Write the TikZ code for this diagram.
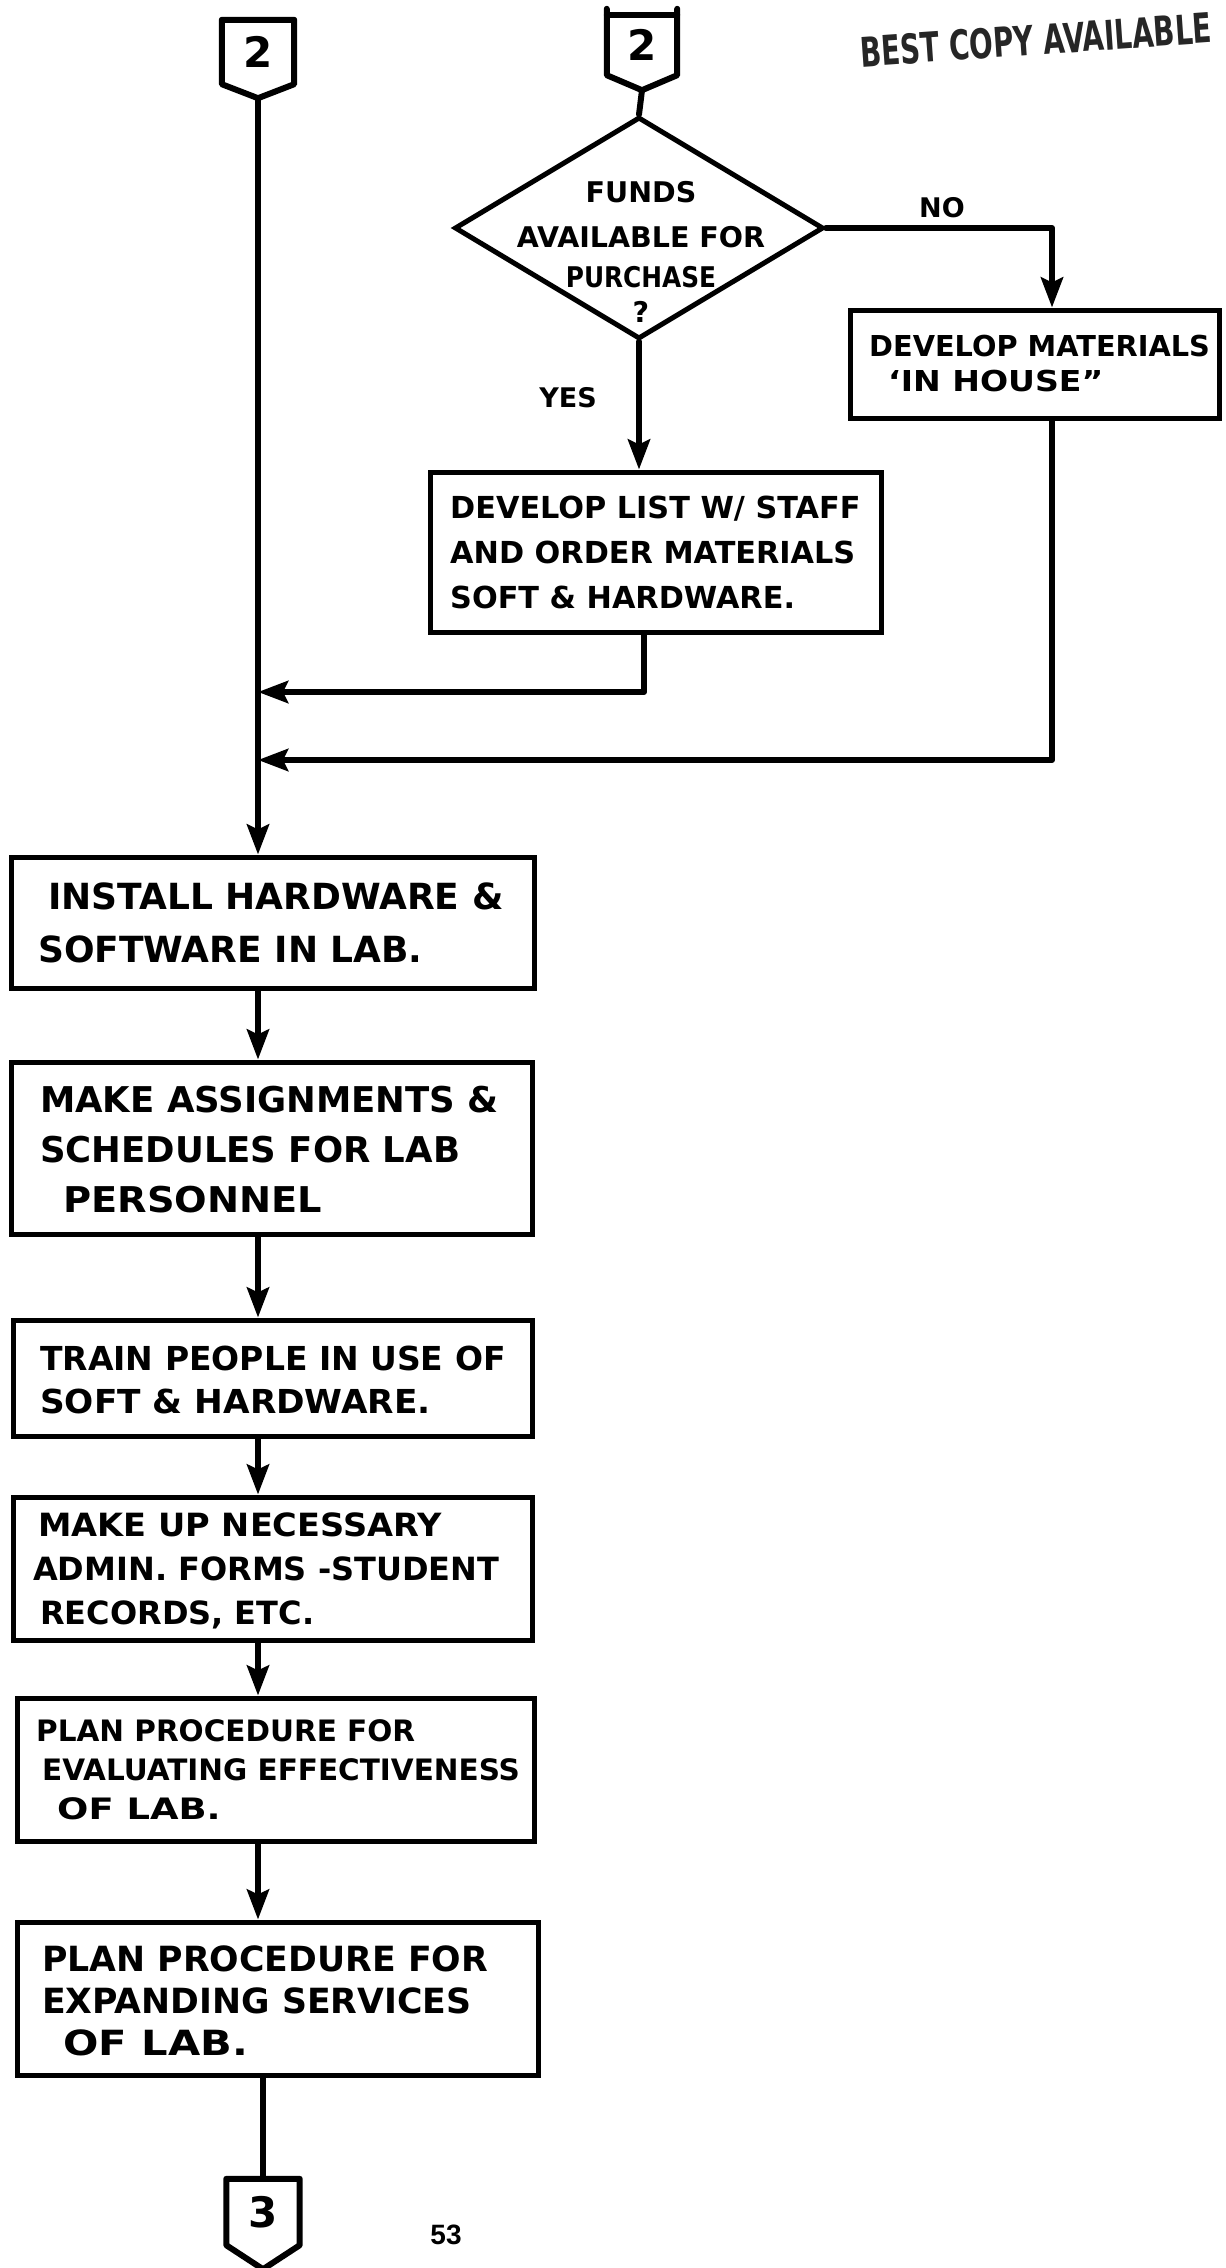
\documentclass[tikz,border=0pt]{standalone}
\usepackage{fontspec}
\setmainfont{DejaVu Sans}
\newfontfamily\numfont{Liberation Sans}
\usetikzlibrary{arrows.meta,shapes.geometric}

\tikzset{
  ln/.style={line width=6pt, line cap=round, line join=round},
  arr/.style={-{Stealth[length=30pt,width=22pt,inset=5pt]}},
  procbox/.style 2 args={draw, line width=5pt, inner sep=0pt,
    minimum width=#1pt, minimum height=#2pt},
  boxtext/.style={anchor=west, align=left, inner sep=0pt},
  offpage/.style={inner sep=0pt, font=\bfseries\fontsize{42pt}{42pt}\selectfont},
  decision/.style={diamond, draw, line width=5pt, inner sep=0pt,
    minimum width=369pt, minimum height=222pt},
  lbl/.style={inner sep=0pt, font=\bfseries\fontsize{27pt}{27pt}\selectfont},
}
\newcommand\hw[2]{\bfseries\fontsize{#1pt}{#2pt}\selectfont}
% widen or narrow one lettered line
\newcommand\wide[2]{\scalebox{#1}[1]{#2}}

\begin{document}
\begin{tikzpicture}[x=1pt,y=-1pt]
\useasboundingbox (0,0) rectangle (1226,2268);
\fill[white] (0,0) rectangle (1226,2268);

% guide columns for the connectors
\coordinate (spine) at (258,0);
\coordinate (rcol) at (1052,0);
\coordinate (dcol) at (644,0);
\coordinate (join1) at (258,692);
\coordinate (join2) at (258,760);

% off-page connectors
\node[offpage, minimum width=72pt, minimum height=64pt] (c2a) at (258,52) {2};
\coordinate (c2a tip) at ([yshift=-14pt]c2a.south);
\draw[ln] (c2a.north west) -- (c2a.north east) -- (c2a.south east)
  -- (c2a tip) -- (c2a.south west) -- cycle;

\node[offpage, minimum width=70pt, minimum height=60pt] (c2b) at (642,45) {2};
\coordinate (c2b tip) at ([yshift=-15pt]c2b.south);
\draw[ln] ([yshift=6pt]c2b.north west) -- (c2b.south west) -- (c2b tip)
  -- (c2b.south east) -- ([yshift=6pt]c2b.north east);
\draw[ln] (c2b.north west) -- (c2b.north east);

\node[offpage, minimum width=73pt, minimum height=66pt] (c3) at (263,2212) {3};
\coordinate (c3 tip) at ([yshift=-24pt]c3.south);
\draw[ln] (c3.north west) -- (c3.north east) -- (c3.south east)
  -- (c3 tip) -- (c3.south west) -- cycle;

% decision
\node[decision] (fund) at (639,228) {};
\node[align=center, inner sep=0pt, font=\hw{28.5}{40}]
  (fundtxt) at (641,252) {FUNDS\\[5pt]AVAILABLE FOR\\\wide{0.87}{PURCHASE}\\[-5pt]?};
\node[lbl] (yes) at (568,398) {YES};
\node[lbl] (no) at (942,208) {NO};

% process boxes
\node[procbox={369}{108}] (inh) at (1034.5,364) {};
\node[boxtext, font=\hw{28.8}{35}] (inh text) at (869,364)
  {DEVELOP MATERIALS\\\hspace*{19pt}\wide{1.15}{‘IN HOUSE”}};

\node[procbox={451}{160}] (dlist) at (655.5,552) {};
\node[boxtext, font=\hw{30.3}{45}] (dlist text) at (450,552)
  {DEVELOP LIST W/ STAFF\\AND ORDER MATERIALS\\SOFT \& HARDWARE.};

\node[procbox={523}{131}] (install) at (272.5,922.5) {};
\node[boxtext, font=\hw{36}{53}] (install text) at (38,922.5)
  {\hspace*{10pt}INSTALL HARDWARE \&\\SOFTWARE IN LAB.};

\node[procbox={521}{172}] (assign) at (271.5,1148) {};
\node[boxtext, font=\hw{35.5}{50}] (assign text) at (40,1150)
  {MAKE ASSIGNMENTS \&\\SCHEDULES FOR LAB\\\hspace*{23pt}\wide{1.08}{PERSONNEL}};

\node[procbox={519}{116}] (train) at (272.5,1378) {};
\node[boxtext, font=\hw{33}{43}] (train text) at (40,1380)
  {TRAIN PEOPLE IN USE OF\\\wide{1.04}{SOFT \& HARDWARE.}};

\node[procbox={519}{143}] (makeup) at (272.5,1568.5) {};
\node[boxtext, font=\hw{32}{44}] (makeup text) at (33,1571)
  {\hspace*{5pt}\wide{1.05}{MAKE UP NECESSARY}\\ADMIN. FORMS -STUDENT\\\hspace*{7pt}RECORDS, ETC.};

\node[procbox={517}{143}] (eval) at (275.5,1769.5) {};
\node[boxtext, font=\hw{29.5}{39}] (eval text) at (36,1769.5)
  {PLAN PROCEDURE FOR\\\hspace*{6pt}EVALUATING EFFECTIVENESS\\\hspace*{21pt}\wide{1.25}{OF LAB.}};

\node[procbox={521}{153}] (expand) at (277.5,1998.5) {};
\node[boxtext, font=\hw{34.7}{42}] (expand text) at (42,2001)
  {PLAN PROCEDURE FOR\\EXPANDING SERVICES\\\hspace*{21pt}\wide{1.2}{OF LAB.}};

% connectors
\draw[ln] (c2b tip) -- (fund.north);
\draw[ln,arr] (fund.east) -| (rcol |- inh.north);
\draw[ln,arr] (fund.south) -- (fund.south |- dlist.north);
\draw[ln,arr] (dcol |- dlist.south) |- (join1);
\draw[ln,arr] (rcol |- inh.south) |- (join2);
\draw[ln,arr] (c2a tip) -- (spine |- install.north);
\draw[ln,arr] (spine |- install.south) -- (spine |- assign.north);
\draw[ln,arr] (spine |- assign.south) -- (spine |- train.north);
\draw[ln,arr] (spine |- train.south) -- (spine |- makeup.north);
\draw[ln,arr] (spine |- makeup.south) -- (spine |- eval.north);
\draw[ln,arr] (spine |- eval.south) -- (spine |- expand.north);
\draw[ln] (c3 |- expand.south) -- (c3.north);

% page number and stamp
\node[inner sep=0pt, font=\numfont\bfseries\fontsize{28pt}{28pt}\selectfont]
  (pageno) at (446,2235) {53};
\node[inner sep=0pt, rotate=4, text=black!85,
  font=\bfseries\fontsize{41pt}{41pt}\selectfont]
  (stamp) at (1036,40) {\scalebox{0.68}[1]{BEST COPY AVAILABLE}};
\end{tikzpicture}
\end{document}
